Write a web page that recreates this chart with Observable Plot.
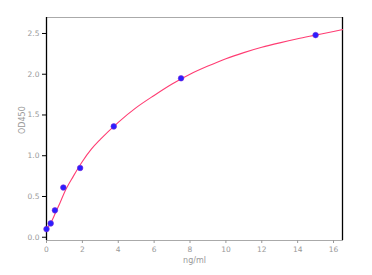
<!DOCTYPE html>
<html><head><meta charset="utf-8">
<script src="https://cdn.jsdelivr.net/npm/d3@7"></script>
<script src="https://cdn.jsdelivr.net/npm/@observablehq/plot@0.6"></script>
<style>body{margin:0;background:#fff;font-family:"DejaVu Sans",sans-serif;}</style>
</head><body><div id="chart"></div>
<script>
const concentrations = [0, 0.234, 0.469, 0.938, 1.875, 3.75, 7.5, 15];
const odValues = [0.10, 0.17, 0.33, 0.61, 0.85, 1.36, 1.95, 2.48];
const fitX = [0, 0.25, 0.5, 0.75, 1, 1.5, 2, 2.5, 3, 4, 5, 6, 7, 8, 9, 10, 11, 12, 13, 14, 15, 16, 16.5];
const fitY = [0.10, 0.18, 0.30, 0.42, 0.55, 0.75, 0.93, 1.08, 1.20, 1.41, 1.59, 1.74, 1.88, 2.00, 2.10, 2.19, 2.265, 2.33, 2.385, 2.435, 2.48, 2.525, 2.547];
const xTicks = [0, 2, 4, 6, 8, 10, 12, 14, 16];
const yTicks = [0, 0.5, 1.0, 1.5, 2.0, 2.5];
const xDomain = [0, 16.5];
const yDomain = [-0.04, 2.696];
const xLabel = "ng/ml";
const yLabel = "OD450";

const points = concentrations.map((x, i) => ({x, y: odValues[i]}));
const fit = fitX.map((x, i) => ({x, y: fitY[i]}));

const chart = Plot.plot({
  width: 372, height: 275,
  marginLeft: 46, marginRight: 30, marginTop: 17, marginBottom: 35,
  style: {fontFamily: "DejaVu Sans, sans-serif", fontSize: "7.5px", color: "#999", background: "#fff"},
  x: {domain: xDomain, ticks: xTicks, tickFormat: d => String(d), label: null},
  y: {domain: yDomain, ticks: yTicks, tickFormat: d3.format(".1f"), label: null},
  marks: [
    Plot.frame({stroke: "#aaa"}),
    Plot.ruleX(xDomain, {stroke: "#000", strokeWidth: 1.3}),
    Plot.axisX({ticks: xTicks, tickFormat: d => String(d), tickSize: 3, stroke: "#999", tickPadding: 3, label: null, fill: "#999"}),
    Plot.axisY({ticks: yTicks, tickFormat: d3.format(".1f"), tickSize: 4, stroke: "#000", tickPadding: 3, label: null, fill: "#999"}),
    Plot.text([xLabel], {frameAnchor: "bottom", dy: 22, fill: "#999", fontSize: 8}),
    Plot.text([yLabel], {frameAnchor: "left", dx: -24, dy: 5, rotate: -90, fill: "#999", fontSize: 8}),
    Plot.line(fit, {x: "x", y: "y", stroke: "#ff3d73", strokeWidth: 1.1, curve: "monotone-x"}),
    Plot.dot(points, {x: "x", y: "y", r: 2.8, fill: "#2a1eff", stroke: "#7a2ad8", strokeWidth: 0.6})
  ]
});
document.getElementById("chart").appendChild(chart);
</script></body></html>
